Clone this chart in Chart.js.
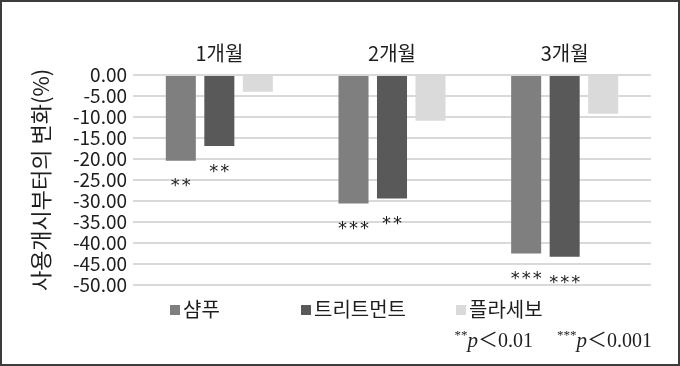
<!DOCTYPE html>
<html><head><meta charset="utf-8">
<script src="https://cdn.jsdelivr.net/npm/chart.js@4"></script>
<style>html,body{margin:0;padding:0;background:#fff;}#wrap{width:680px;height:366px;}</style>
</head><body><div id="wrap"><canvas id="c" width="680" height="366"></canvas></div>
<script>
const categories = ['1개월', '2개월', '3개월'];
const seriesNames = ['샴푸', '트리트먼트', '플라세보'];
const shampoo = [-20.4, -30.6, -42.5];
const treatment = [-16.9, -29.4, -43.3];
const placebo = [-4.0, -10.9, -9.2];
const shampooSig = ['**', '***', '***'];
const treatmentSig = ['**', '**', '***'];
const placeboSig = ['', '', ''];
const yMin = -50, yMax = 0, yStep = 5;
const yTitle = '사용개시부터의 변화(%)';
const footnoteParts = [['**', '0.01'], ['***', '0.001']];

const KR = '"Noto Sans CJK KR", "Noto Sans", sans-serif';
const SERIF = '"Liberation Serif", "DejaVu Serif", serif';
const TXT = '#1e1e1e';

const framePlugin = {
  id: 'frame',
  beforeDraw(chart) {
    const c = chart.ctx;
    c.save(); c.fillStyle = '#fff'; c.fillRect(0, 0, chart.width, chart.height); c.restore();
  },
  afterDraw(chart) {
    const c = chart.ctx;
    c.save(); c.strokeStyle = '#3c3c3c'; c.lineWidth = 2;
    c.strokeRect(1, 1, chart.width - 2, chart.height - 2); c.restore();
  }
};

const sigPlugin = {
  id: 'sig',
  afterDatasetsDraw(chart) {
    const c = chart.ctx;
    c.save();
    c.font = '18px "DejaVu Sans", sans-serif';
    try { c.letterSpacing = '2px'; } catch (e) {}
    c.fillStyle = TXT; c.textAlign = 'center'; c.textBaseline = 'middle';
    chart.data.datasets.forEach((ds, di) => {
      const meta = chart.getDatasetMeta(di);
      meta.data.forEach((bar, i) => {
        const s = ds.sig[i];
        if (s) c.fillText(s, bar.x + 1, bar.y + 26);
      });
    });
    c.restore();
  }
};

const legendPlugin = {
  id: 'customLegend',
  afterDraw(chart) {
    const c = chart.ctx, a = chart.chartArea;
    const offsets = [37, 168, 323];
    const y = a.bottom + 24;
    c.save();
    c.font = '20px ' + KR; c.textBaseline = 'middle'; c.textAlign = 'left';
    chart.data.datasets.forEach((ds, di) => {
      const x = a.left + offsets[di];
      c.fillStyle = ds.backgroundColor;
      c.fillRect(x, y - 4, 10, 10);
      c.fillStyle = TXT;
      c.fillText(ds.label, x + 13, y);
    });
    c.restore();
  }
};

const footPlugin = {
  id: 'foot',
  afterDraw(chart) {
    const c = chart.ctx, a = chart.chartArea;
    const base = a.bottom + 62;
    const gap = 24;
    c.save(); c.fillStyle = TXT; c.textBaseline = 'alphabetic'; c.textAlign = 'left';
    const segs = [];
    footnoteParts.forEach((p, i) => {
      if (i > 0) segs.push({t: '', f: '20px ' + SERIF, dy: 0, extra: gap});
      segs.push({t: p[0], f: '13px ' + SERIF, dy: -8});
      segs.push({t: 'p', f: 'italic 21px ' + SERIF, dy: 0});
      segs.push({t: '＜', f: '20px ' + KR, dy: 0});
      segs.push({t: p[1], f: '20px ' + SERIF, dy: 0});
    });
    let total = 0;
    segs.forEach(s => { c.font = s.f; s.w = c.measureText(s.t).width + (s.extra || 0); total += s.w; });
    let x = a.right + 1 - total;
    segs.forEach(s => { c.font = s.f; c.fillText(s.t, x, base + s.dy); x += s.w; });
    c.restore();
  }
};

new Chart(document.getElementById('c'), {
  type: 'bar',
  data: {
    labels: categories,
    datasets: [
      {label: seriesNames[0], data: shampoo, sig: shampooSig, backgroundColor: '#7f7f7f'},
      {label: seriesNames[1], data: treatment, sig: treatmentSig, backgroundColor: '#595959'},
      {label: seriesNames[2], data: placebo, sig: placeboSig, backgroundColor: '#dadada'}
    ]
  },
  options: {
    responsive: false,
    animation: false,
    devicePixelRatio: 1,
    layout: {padding: {left: 10, top: 0, right: 29, bottom: 81}},
    datasets: {bar: {categoryPercentage: 0.669, barPercentage: 0.78}},
    plugins: {legend: {display: false}, tooltip: {enabled: false}},
    scales: {
      x: {
        position: 'top',
        grid: {display: false, drawTicks: false},
        border: {display: false},
        ticks: {font: {family: KR, size: 20}, color: TXT, padding: 10},
        afterFit(s) { s.height = 75; }
      },
      y: {
        min: yMin, max: yMax,
        grid: {color: '#d9d9d9', lineWidth: 2, drawTicks: false},
        border: {display: false},
        ticks: {stepSize: yStep, autoSkip: false, font: {family: KR, size: 19}, color: TXT, padding: 6,
          callback: v => Number(v).toFixed(2)},
        title: {display: true, text: yTitle, font: {family: KR, size: 22}, color: TXT, padding: {top: 17, bottom: 0}},
        afterFit(s) { s.width = 123; }
      }
    }
  },
  plugins: [framePlugin, sigPlugin, legendPlugin, footPlugin]
});
</script></body></html>
